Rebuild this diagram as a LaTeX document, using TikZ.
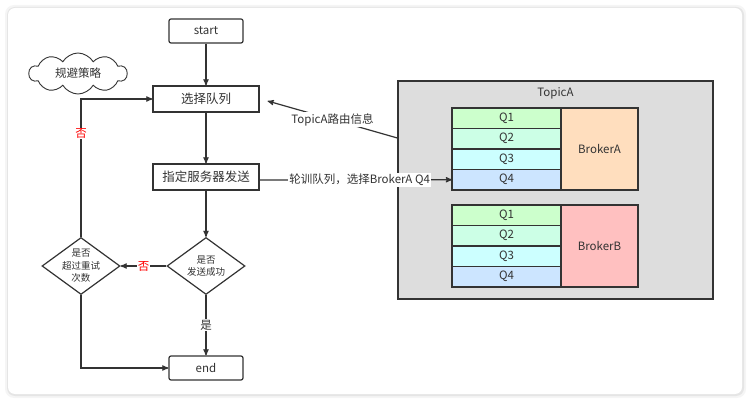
\documentclass[tikz,border=0pt]{standalone}
\usepackage{fontspec}
\setmainfont{Noto Sans CJK SC}
\usetikzlibrary{arrows,positioning,shapes.geometric,shapes.symbols}

\definecolor{txt}{RGB}{51,51,51}
\definecolor{topicfill}{RGB}{221,221,221}
\definecolor{qone}{RGB}{204,255,204}
\definecolor{qtwo}{RGB}{204,255,230}
\definecolor{qthree}{RGB}{204,255,255}
\definecolor{qfour}{RGB}{204,229,255}
\definecolor{brokera}{RGB}{255,222,190}
\definecolor{brokerb}{RGB}{255,192,192}

\begin{document}
\begin{tikzpicture}[x=1pt,y=-1pt,->,>=stealth',line width=1.2pt,draw=txt,text=txt,
  font=\fontsize{11.5}{13}\selectfont,
  term node/.style={rectangle,rounded corners=2pt,draw,fill=white,minimum width=74pt,minimum height=24pt,inner sep=0pt},
  step node/.style={rectangle,draw,fill=white,minimum width=106pt,minimum height=26pt,inner sep=0pt,font=\fontsize{12.5}{14}\selectfont},
  decision node/.style={diamond,draw,fill=white,minimum width=78pt,minimum height=57pt,inner sep=0pt},
  q node/.style={rectangle,draw,minimum width=109pt,minimum height=20.5pt,inner sep=0pt,outer sep=0pt},
  broker node/.style={rectangle,draw,minimum width=77pt,minimum height=82pt,inner sep=0pt,outer sep=0pt,anchor=north west},
  lbl/.style={fill=white,inner sep=1pt},
  no/.style={lbl,text=red}]
  \useasboundingbox (0,0) rectangle (750,403);
  % card
  \fill[black!4,rounded corners=9pt] (5,5) rectangle (746,398);
  \fill[black!10,rounded corners=8pt] (7,7) rectangle (744,396);
  \fill[white,rounded corners=7pt] (8,8) rectangle (742,394);

  % flow chart
  \node[term node] (start) at (206,31) {start};
  \node[cloud,cloud puffs=10,cloud puff arc=120,cloud ignores aspect,draw,line width=0.9pt,minimum width=98pt,minimum height=41pt,inner sep=0pt] (tip) at (78,73.5) {规避策略};
  \node[step node] (select) at (206,99) {选择队列};
  \node[step node] (send) at (206,177) {指定服务器发送};
  \node[decision node,label={[align=center,font=\fontsize{9.5}{12.5}\selectfont]center:是否\\发送成功}] (ok) at (206,266) {};
  \node[decision node,label={[align=center,font=\fontsize{9.5}{12.5}\selectfont]center:是否\\超过重试\\次数}] (retry) at (81,266) {};
  \node[term node] (end) at (206,368) {end};

  % topic
  \node[rectangle,draw,fill=topicfill,minimum width=315pt,minimum height=218pt,inner sep=0pt] (topic) at (555.5,190) {};
  \node[below=3pt of topic.north] (topicname) {TopicA};
  \node[q node,fill=qone,anchor=north west] (a1) at (452,108) {Q1};
  \node[q node,fill=qtwo,below=0pt of a1] (a2) {Q2};
  \node[q node,fill=qthree,below=0pt of a2] (a3) {Q3};
  \node[q node,fill=qfour,below=0pt of a3] (a4) {Q4};
  \node[broker node,fill=brokera] (ba) at (a1.north east) {BrokerA};
  \node[q node,fill=qone,anchor=north west] (b1) at (452,205) {Q1};
  \node[q node,fill=qtwo,below=0pt of b1] (b2) {Q2};
  \node[q node,fill=qthree,below=0pt of b2] (b3) {Q3};
  \node[q node,fill=qfour,below=0pt of b3] (b4) {Q4};
  \node[broker node,fill=brokerb] (bb) at (b1.north east) {BrokerB};

  \path
    (start) edge (select)
    (select) edge (send)
    (send) edge (ok)
    (ok) edge node[lbl] {是} (end)
    (ok) edge node[no] {否} (retry);
  \draw (retry.north) |- node[no,pos=0.375] {否} (select.west);
  \draw (retry.south) |- (end.west);
  \draw (topic.west |- 0,138) -- node[lbl] {TopicA路由信息} ([xshift=8pt,yshift=-2pt]select.east);
  \draw (send.east |- 0,180) -- node[lbl,pos=0.52] {轮训队列，选择BrokerA Q4} (a4.west);
\end{tikzpicture}
\end{document}
